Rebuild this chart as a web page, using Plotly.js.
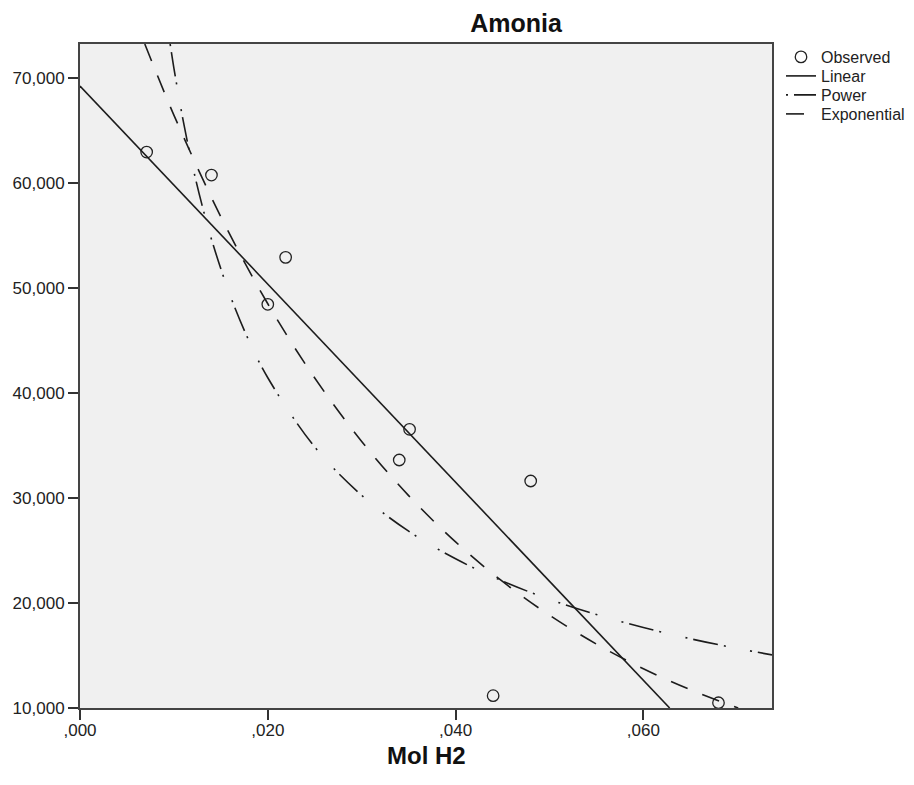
<!DOCTYPE html>
<html>
<head>
<meta charset="utf-8">
<script src="https://cdn.plot.ly/plotly-3.0.1.min.js"></script>
<style>html,body{margin:0;padding:0;background:#fff;}#chart{width:914px;height:785px;}</style>
</head>
<body>
<div id="chart"></div>
<script>
// Observed data (Mol H2 vs Amonia)
var obsX = [0.0071, 0.0140, 0.0219, 0.0200, 0.0351, 0.0340, 0.0480, 0.0440, 0.0680];
var obsY = [62950, 60760, 52920, 48450, 36540, 33620, 31620, 11170, 10500];

// Fitted curves
var linX = [0.0, 0.0628];
var linY = [69240, 10000];

var powX = [0.0096, 0.010, 0.011, 0.012, 0.013, 0.014, 0.016, 0.018, 0.020, 0.025, 0.030, 0.035, 0.040, 0.045, 0.050, 0.055, 0.060, 0.065, 0.070, 0.0737];
var powY = [73240, 70950, 65890, 61590, 57890, 54650, 49270, 44970, 41450, 34860, 30260, 26840, 24210, 22090, 20350, 18900, 17670, 16600, 15670, 15060];

var expX = [0.0069, 0.008, 0.010, 0.015, 0.020, 0.025, 0.030, 0.035, 0.040, 0.045, 0.050, 0.055, 0.060, 0.065, 0.0701];
var expY = [73240, 70790, 66470, 56780, 48500, 41430, 35390, 30230, 25820, 22050, 18840, 16090, 13740, 11740, 10000];

var xTickVals = [0, 0.02, 0.04, 0.06];
var xTickText = [',000', ',020', ',040', ',060'];
var yTickVals = [10000, 20000, 30000, 40000, 50000, 60000, 70000];
var yTickText = ['10,000', '20,000', '30,000', '40,000', '50,000', '60,000', '70,000'];

var lineColor = '#1c1c1c';
var FONT = 'Liberation Sans, Arial, sans-serif';

var traces = [
  {x: obsX, y: obsY, type: 'scatter', mode: 'markers', name: 'Observed', legend: 'legend',
   marker: {symbol: 'circle-open', size: 11.5, color: '#222', line: {width: 1.3, color: '#222'}}},
  {x: linX, y: linY, type: 'scatter', mode: 'lines', name: 'Linear', legend: 'legend2',
   line: {color: lineColor, width: 1.6}},
  {x: powX, y: powY, type: 'scatter', mode: 'lines', name: 'Power', legend: 'legend3',
   line: {color: lineColor, width: 1.6, shape: 'spline', dash: '2px,6px,25px,6px,2px,25px'}},
  {x: expX, y: expY, type: 'scatter', mode: 'lines', name: 'Exponential', legend: 'legend4',
   line: {color: lineColor, width: 1.6, shape: 'spline', dash: '18px,16px'}}
];

function legendAt(yCenter) {
  return {xref: 'container', yref: 'container', x: 781/914, xanchor: 'left',
          y: 1 - yCenter/785, yanchor: 'middle',
          font: {family: FONT, size: 16, color: '#222'},
          bgcolor: 'rgba(0,0,0,0)', borderwidth: 0};
}

var layout = {
  width: 914, height: 785,
  margin: {l: 80, r: 142, t: 44, b: 77, pad: 0},
  paper_bgcolor: '#ffffff',
  plot_bgcolor: '#f0f0f0',
  font: {family: FONT, color: '#222', size: 17},
  title: {text: 'Amonia', font: {family: FONT, size: 25, weight: 'bold', color: '#111'},
          x: 516/914, xref: 'container', xanchor: 'center', y: 0.971, yref: 'container', yanchor: 'middle'},
  showlegend: true,
  legend: legendAt(57),
  legend2: legendAt(76),
  legend3: legendAt(95),
  legend4: legendAt(114),
  annotations: [
    {text: 'Mol H2', xref: 'paper', yref: 'paper', x: 0.5, y: (708 - 755) / 664,
     xanchor: 'center', yanchor: 'middle', showarrow: false,
     font: {family: FONT, size: 24, weight: 'bold', color: '#111'}}
  ],
  xaxis: {
    range: [0, 0.0737], autorange: false,
    tickmode: 'array', tickvals: xTickVals, ticktext: xTickText,
    ticks: 'outside', ticklen: 10, tickwidth: 2, tickcolor: '#333',
    ticklabelstandoff: -4,
    showline: true, linecolor: '#444', linewidth: 2, mirror: true,
    showgrid: false, zeroline: false,
    tickfont: {family: FONT, size: 17, color: '#222'}
  },
  yaxis: {
    range: [10000, 73240], autorange: false,
    tickmode: 'array', tickvals: yTickVals, ticktext: yTickText,
    ticks: 'outside', ticklen: 10, tickwidth: 2, tickcolor: '#333',
    showline: true, linecolor: '#444', linewidth: 2, mirror: true,
    showgrid: false, zeroline: false,
    tickfont: {family: FONT, size: 17, color: '#222'}
  }
};

Plotly.newPlot('chart', traces, layout, {displayModeBar: false, staticPlot: true});
</script>
</body>
</html>
